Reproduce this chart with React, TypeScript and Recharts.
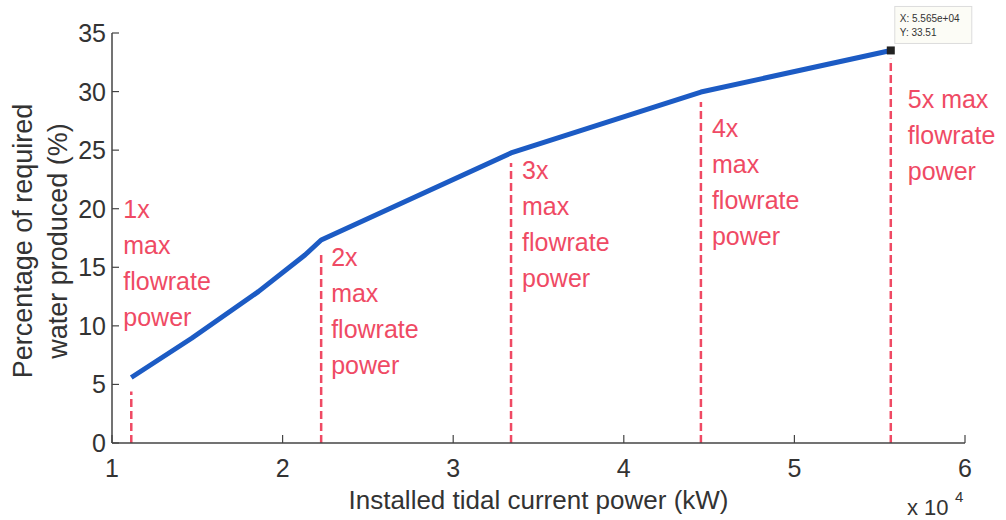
import React from 'react';
import { LineChart, Line, XAxis, YAxis, ReferenceLine, ReferenceDot } from 'recharts';

// installed power (x 10^4 kW) and share of required water produced (%)
const power = [1.113, 1.467, 1.858, 2.131, 2.226, 3.339, 4.452, 5.565];
const water = [5.59, 8.94, 12.92, 16.05, 17.33, 24.76, 29.96, 33.51];

// multiples of max flowrate power, with where their dashed markers stop
const markPower = [1.113, 2.226, 3.339, 4.452, 5.565];
const markTop = [4.4, 16.05, 23.9, 29.1, 32.8];
const markTextY = [19.2, 15.1, 22.5, 26.15, 28.57];
const markText = [
  ['1x', 'max', 'flowrate', 'power'],
  ['2x', 'max', 'flowrate', 'power'],
  ['3x', 'max', 'flowrate', 'power'],
  ['4x', 'max', 'flowrate', 'power'],
  ['5x max', 'flowrate', 'power'],
];

const xTicks = [1, 2, 3, 4, 5, 6];
const yTicks = [0, 5, 10, 15, 20, 25, 30, 35];

const data = power.map((p, i) => ({ power: p, water: water[i] }));

const FONT = '"Liberation Sans", Arial, Helvetica, sans-serif';
const AXIS = '#444';
const TEXT = '#333';
const RED = '#ef4a64';
const textDx = [-8, 10, 11, 11, 17];

const XTick = ({ x, y, payload }: any) => (
  <g>
    <line x1={x} x2={x} y1={y} y2={y - 8} stroke={AXIS} strokeWidth={1.2} />
    <text x={x} y={y + 34} textAnchor="middle" fontSize={25} fill={TEXT} fontFamily={FONT}>
      {payload.value}
    </text>
  </g>
);

const YTick = ({ x, y, payload }: any) => (
  <g>
    <line x1={x} x2={x + 7} y1={y} y2={y} stroke={AXIS} strokeWidth={1.2} />
    <text x={x - 6} y={y + 9} textAnchor="end" fontSize={25} fill={TEXT} fontFamily={FONT}>
      {payload.value}
    </text>
  </g>
);

const XTitle = ({ viewBox }: any) => {
  const cx = viewBox.x + viewBox.width / 2;
  const right = viewBox.x + viewBox.width;
  return (
    <g fontFamily={FONT} fill={TEXT}>
      <text x={cx} y={viewBox.y + 66} textAnchor="middle" fontSize={26}>
        Installed tidal current power (kW)
      </text>
      <text x={right - 58} y={viewBox.y + 72} fontSize={22}>x 10</text>
      <text x={right - 10} y={viewBox.y + 59} fontSize={15}>4</text>
    </g>
  );
};

const YTitle = ({ viewBox }: any) => {
  const cy = viewBox.y + viewBox.height / 2 + 3;
  return (
    <g fontFamily={FONT} fill={TEXT} fontSize={27}>
      <text x={32} y={cy} textAnchor="middle" transform={`rotate(-90, 32, ${cy})`}>
        Percentage of required
      </text>
      <text x={67} y={cy} textAnchor="middle" transform={`rotate(-90, 67, ${cy})`}>
        water produced (%)
      </text>
    </g>
  );
};

export default function App() {
  const last = data[data.length - 1];
  const tipX = `X: ${(last.power).toFixed(3)}e+04`;
  const tipY = `Y: ${last.water.toFixed(2)}`;

  return (
    <div style={{ position: 'absolute', left: 0, top: 0, width: 1006, height: 520, background: '#fff' }}>
      <LineChart width={1006} height={520} data={data} margin={{ top: 33, right: 41, left: 52, bottom: 37 }}>
        <XAxis
          dataKey="power"
          type="number"
          domain={[1, 6]}
          ticks={xTicks}
          interval={0}
          height={40}
          tickSize={0}
          tickMargin={0}
          tickLine={false}
          tick={XTick}
          axisLine={{ stroke: AXIS, strokeWidth: 1.5 }}
          label={{ content: XTitle }}
        />
        <YAxis
          type="number"
          domain={[0, 35]}
          ticks={yTicks}
          interval={0}
          width={60}
          tickSize={0}
          tickMargin={0}
          tickLine={false}
          tick={YTick}
          axisLine={{ stroke: AXIS, strokeWidth: 1.5 }}
          label={{ content: YTitle }}
        />
        {markPower.map((p, i) => (
          <ReferenceLine
            key={`d${i}`}
            segment={[{ x: p, y: 0 }, { x: p, y: markTop[i] }]}
            stroke={RED}
            strokeWidth={2.5}
            strokeDasharray="8 4"
            ifOverflow="visible"
          />
        ))}
        {markPower.map((p, i) => (
          <ReferenceDot
            key={`t${i}`}
            x={p}
            y={markTextY[i]}
            ifOverflow="visible"
            shape={(props: any) => (
              <text x={props.cx + textDx[i]} y={props.cy} fill={RED} fontSize={25} fontFamily={FONT}>
                {markText[i].map((s, j) => (
                  <tspan key={j} x={props.cx + textDx[i]} dy={j === 0 ? 0 : 36}>
                    {s}
                  </tspan>
                ))}
              </text>
            )}
          />
        ))}
        <Line
          type="linear"
          dataKey="water"
          stroke="#1c5bc4"
          strokeWidth={5}
          strokeLinejoin="round"
          dot={false}
          activeDot={false}
          isAnimationActive={false}
        />
        <ReferenceDot
          x={last.power}
          y={last.water}
          ifOverflow="visible"
          shape={(props: any) => (
            <g>
              <rect x={props.cx - 4} y={props.cy - 4} width={8} height={8} fill="#222" />
              <rect x={props.cx + 4} y={props.cy - 44} width={77} height={37} fill="#fcfcf6" stroke="#dcdcdc" />
              <text x={props.cx + 9} y={props.cy - 28} fontSize={10} fill={TEXT} fontFamily={FONT}>
                {tipX}
              </text>
              <text x={props.cx + 9} y={props.cy - 14} fontSize={10} fill={TEXT} fontFamily={FONT}>
                {tipY}
              </text>
            </g>
          )}
        />
      </LineChart>
    </div>
  );
}
